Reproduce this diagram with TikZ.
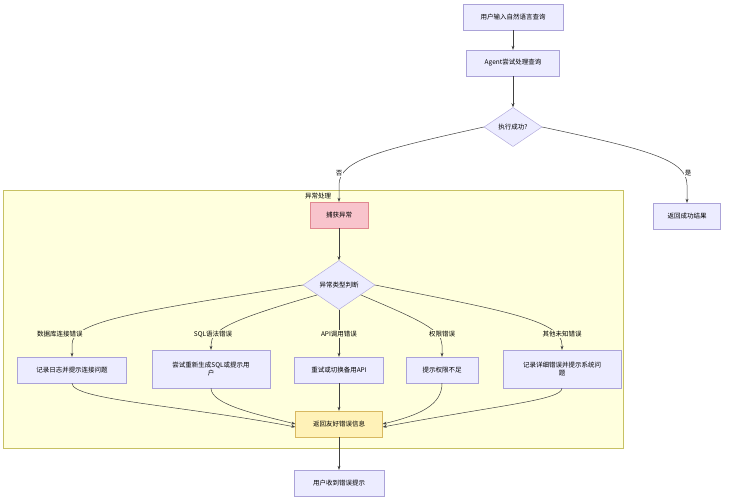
\documentclass[tikz,border=0pt]{standalone}
\usepackage{fontspec}
\setmainfont{Noto Sans CJK SC}
\usetikzlibrary{shapes.geometric,arrows.meta,calc}
\begin{document}
\begin{tikzpicture}[x=1pt,y=-1pt,
  box/.style={draw=mmb,fill=mmf,minimum height=26pt,align=center,font=\fontsize{6.5}{8}\selectfont,inner sep=2pt},
  dia/.style={diamond,draw=mmb,fill=mmf,aspect=1,inner sep=1pt,font=\fontsize{6.5}{8}\selectfont},
  lab/.style={font=\fontsize{6.5}{8}\selectfont,fill=mmc,inner sep=1pt},
  ed/.style={draw=black!75,line width=0.5pt,-{Stealth[length=4pt,width=3pt]}}]
\definecolor{mmf}{HTML}{ECECFF}\definecolor{mmb}{HTML}{ABA3D8}
\definecolor{mmc}{HTML}{FFFFDE}
\definecolor{rf}{HTML}{FFF2B8}\definecolor{rb}{HTML}{D8B860}
\definecolor{pf}{HTML}{F8C4CC}\definecolor{pb}{HTML}{E08890}
\useasboundingbox (0,0) rectangle (729,500);
\fill[white] (0,0) rectangle (729,500);
\draw[draw=olive!50,fill=mmc] (3,190) rectangle (623,448);
\node[font=\fontsize{6.5}{8}\selectfont] (cl) at (318,196) {异常处理};
\node[box,minimum width=100pt] (a) at (513,17) {用户输入自然语言查询};
\node[box,minimum width=93pt] (b) at (513,63) {Agent尝试处理查询};
\node[dia,minimum width=58pt] (c) at (513,127) {执行成功?};
\node[box,minimum width=67pt] (ok) at (687,216) {返回成功结果};
\node[box,minimum width=58pt,fill=pf,draw=pb] (catch) at (339,215) {捕获异常};
\node[dia,minimum width=72pt] (t) at (339,285) {异常类型判断};
\node[box,minimum width=109pt] (e1) at (72,370) {记录日志并提示连接问题};
\node[box,text width=114pt,minimum height=38pt] (e2) at (211,369) {尝试重新生成SQL或提示用\\户};
\node[box,minimum width=89pt] (e3) at (339,370) {重试或切换备用API};
\node[box,minimum width=72pt] (e4) at (442,370) {提示权限不足};
\node[box,text width=114pt,minimum height=38pt] (e5) at (562,369) {记录详细错误并提示系统问\\题};
\node[box,minimum width=87pt,fill=rf,draw=rb] (r) at (339,424) {返回友好错误信息};
\node[box,minimum width=90pt] (u) at (339,483) {用户收到错误提示};
\draw[ed] (a) -- (b);
\draw[ed] (b) -- (c);
\draw[ed] (c.west) .. controls (380,150) and (339,160) .. (339,185) -- (catch.north);
\draw[ed] (c.east) .. controls (650,150) and (687,160) .. (687,185) -- (ok.north);
\node[lab,fill=white] at (339,173) {否};
\node[lab,fill=white] at (688,173) {是};
\draw[ed] (catch) -- (t);
\draw[ed] (t.west) .. controls (150,310) and (70,320) .. (72,345) -- (e1.north);
\draw[ed] ($(t.west)!0.4!(t.south)$) .. controls (230,320) and (211,330) .. (211,345) -- (e2.north);
\draw[ed] (t.south) -- (e3.north);
\draw[ed] ($(t.east)!0.4!(t.south)$) .. controls (420,320) and (442,330) .. (442,345) -- (e4.north);
\draw[ed] (t.east) .. controls (500,310) and (562,320) .. (562,345) -- (e5.north);
\node[lab] at (60,334) {数据库连接错误};
\node[lab] at (213,334) {SQL语法错误};
\node[lab] at (339,334) {API调用错误};
\node[lab] at (442,334) {权限错误};
\node[lab] at (562,334) {其他未知错误};
\draw[ed] (e1.south) .. controls (72,400) and (180,405) .. ([yshift=-3pt]r.west);
\draw[ed] (e2.south) .. controls (211,405) and (260,415) .. (r.west);
\draw[ed] (e3) -- (r);
\draw[ed] (e4.south) .. controls (442,405) and (420,415) .. (r.east);
\draw[ed] (e5.south) .. controls (562,400) and (500,405) .. ([yshift=-3pt]r.east);
\draw[ed] (r) -- (u);
\end{tikzpicture}
\end{document}
